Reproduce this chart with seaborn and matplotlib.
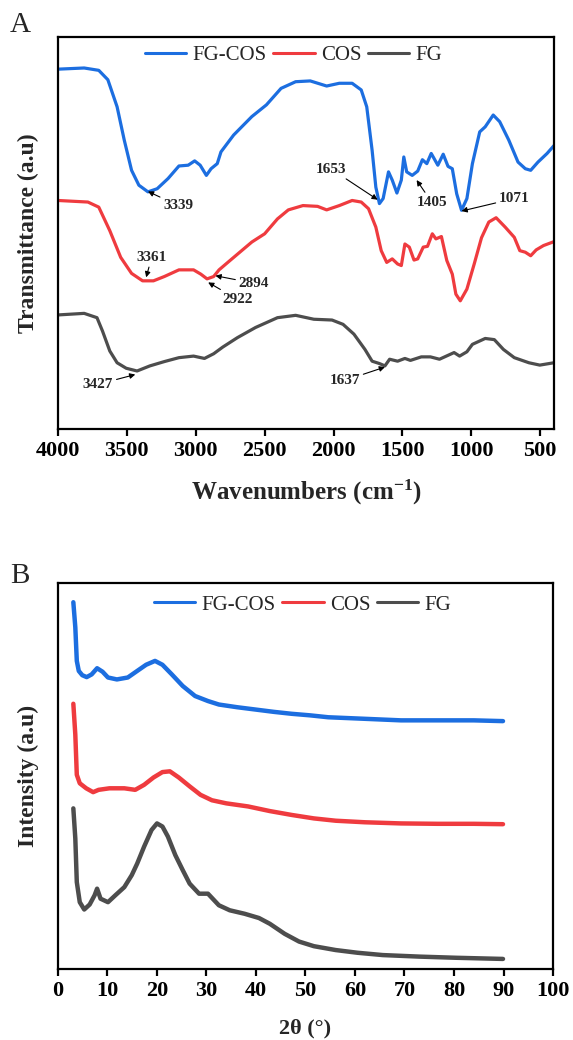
import numpy as np
import pandas as pd
import matplotlib
matplotlib.use("Agg")
import matplotlib.pyplot as plt
import seaborn as sns

# ---- FTIR data (panel A), wavenumber vs transmittance (a.u., offset) ----
ftir_fgcos_x = [4000, 3810, 3704, 3638, 3571, 3519, 3466, 3413, 3347, 3280, 3201, 3122, 3055,
                3008, 2968, 2923, 2889, 2844, 2817, 2725, 2593, 2487, 2381, 2275, 2169, 2050,
                1958, 1865, 1799, 1759, 1720, 1693, 1667, 1640, 1601, 1574, 1540, 1508, 1490,
                1469, 1429, 1389, 1355, 1323, 1291, 1243, 1204, 1169, 1138, 1106, 1071, 1032,
                992, 939, 899, 841, 794, 728, 661, 608, 569, 516, 450, 400]
ftir_fgcos_y = [91.8, 92.1, 91.5, 89.1, 82.2, 73.7, 66.0, 62.2, 60.5, 61.3, 63.9, 67.1, 67.3,
                68.4, 67.3, 64.7, 66.4, 67.7, 70.7, 75.0, 79.7, 82.7, 86.9, 88.6, 88.8, 87.5,
                88.2, 88.2, 86.5, 82.2, 71.1, 61.7, 57.5, 58.8, 65.6, 63.5, 60.2, 63.5, 69.4,
                65.6, 64.7, 65.8, 68.7, 67.7, 70.3, 67.3, 70.1, 67.0, 66.4, 60.0, 55.8, 58.8,
                67.7, 75.8, 77.1, 80.1, 78.4, 73.7, 68.1, 66.4, 66.0, 68.1, 70.3, 72.3]

ftir_cos_x = [4000, 3783, 3704, 3624, 3545, 3466, 3386, 3307, 3228, 3122, 3016, 2963, 2918,
              2870, 2831, 2751, 2593, 2500, 2407, 2328, 2222, 2116, 2050, 1958, 1865, 1799,
              1746, 1693, 1654, 1614, 1574, 1535, 1508, 1482, 1450, 1416, 1389, 1349, 1318,
              1283, 1257, 1217, 1178, 1138, 1112, 1080, 1032, 979, 926, 873, 820, 754, 688,
              648, 608, 569, 529, 476, 400]
ftir_cos_y = [58.3, 57.9, 56.6, 50.6, 43.8, 39.7, 37.8, 37.8, 38.9, 40.6, 40.6, 39.5, 38.3,
              38.9, 40.6, 43.0, 47.7, 49.8, 53.6, 55.9, 57.0, 56.8, 55.9, 57.0, 58.3, 57.9,
              56.2, 51.5, 45.5, 42.5, 43.4, 42.1, 41.7, 47.2, 46.4, 43.1, 43.4, 46.4, 46.6,
              49.8, 48.5, 49.1, 43.0, 39.5, 34.4, 32.7, 35.7, 42.1, 48.8, 52.8, 53.9, 51.5,
              48.9, 45.5, 45.1, 44.2, 45.7, 46.8, 47.8]

ftir_fg_x = [4000, 3810, 3717, 3677, 3624, 3571, 3505, 3426, 3333, 3228, 3122, 3016, 2937,
             2870, 2804, 2698, 2566, 2407, 2275, 2143, 2011, 1931, 1852, 1772, 1720, 1667,
             1627, 1593, 1535, 1482, 1442, 1363, 1297, 1231, 1125, 1085, 1032, 992, 899, 833,
             767, 688, 582, 503, 400]
ftir_fg_y = [29.1, 29.5, 28.4, 25.0, 19.9, 16.9, 15.5, 14.8, 16.1, 17.2, 18.2, 18.6, 18.0,
             19.2, 20.9, 23.3, 25.9, 28.4, 29.0, 28.0, 27.8, 26.7, 24.2, 20.3, 17.3, 16.7,
             16.1, 17.8, 17.3, 18.0, 17.5, 18.4, 18.4, 17.8, 19.5, 18.6, 19.7, 21.6, 23.1,
             22.8, 20.3, 18.2, 16.9, 16.3, 16.9]

# peak labels: text, arrow head (x, y), text position (x, y)
peak_labels = ["3339", "3361", "2894", "2922", "3427", "1653", "1405", "1071", "1637"]
peak_head_x = [3347, 3360, 2857, 2910, 3439, 1680, 1397, 1071, 1627]
peak_head_y = [60.6, 38.7, 39.1, 37.4, 13.9, 58.5, 63.5, 55.6, 15.8]
peak_text_x = [3127, 3320, 2579, 2698, 3709, 2016, 1288, 688, 1918]
peak_text_y = [57.0, 43.8, 37.2, 33.1, 11.4, 66.3, 57.9, 58.8, 12.4]

# ---- XRD data (panel B), 2theta vs intensity (a.u., offset) ----
xrd_fgcos_x = [3.1, 3.5, 3.8, 4.2, 4.9, 5.8, 6.8, 7.9, 9.0, 10.1, 11.9, 14.1, 16.0, 17.8,
               19.6, 21.1, 23.0, 25.2, 27.7, 30.3, 32.5, 36.2, 39.9, 43.6, 47.2, 50.9, 54.6,
               62.0, 69.3, 76.7, 84.0, 89.9]
xrd_fgcos_y = [95.0, 88.5, 79.8, 77.2, 76.1, 75.6, 76.3, 77.9, 77.0, 75.5, 75.0, 75.5, 77.2,
               78.8, 79.8, 78.8, 76.3, 73.3, 70.7, 69.4, 68.5, 67.8, 67.2, 66.6, 66.1, 65.7,
               65.2, 64.8, 64.4, 64.4, 64.4, 64.2]

xrd_cos_x = [3.1, 3.5, 3.8, 4.4, 5.7, 7.1, 8.2, 10.4, 13.4, 15.6, 17.4, 19.3, 21.1, 22.6,
             24.4, 26.6, 28.8, 31.1, 34.0, 38.4, 42.8, 47.2, 51.7, 56.1, 62.0, 69.3, 76.7,
             84.0, 89.9]
xrd_cos_y = [68.7, 60.7, 50.3, 48.1, 46.8, 45.8, 46.4, 46.8, 46.8, 46.4, 47.7, 49.6, 51.0,
             51.2, 49.6, 47.3, 45.1, 43.7, 42.9, 42.1, 40.9, 39.9, 39.0, 38.4, 38.0, 37.7,
             37.6, 37.6, 37.5]

xrd_fg_x = [3.1, 3.5, 3.8, 4.4, 5.3, 6.4, 7.4, 7.9, 8.6, 10.1, 11.6, 13.4, 14.9, 16.0, 17.4,
            18.9, 20.0, 21.1, 22.2, 23.7, 25.2, 26.6, 28.5, 30.3, 32.5, 34.7, 37.7, 40.6,
            42.8, 45.8, 48.7, 51.7, 56.1, 60.5, 65.6, 73.0, 80.4, 89.9]
xrd_fg_y = [41.6, 33.8, 22.5, 17.3, 15.4, 16.7, 19.1, 20.8, 18.2, 17.3, 19.1, 21.2, 24.3,
            27.3, 31.7, 36.0, 37.7, 36.9, 34.3, 29.5, 25.6, 22.1, 19.5, 19.5, 16.5, 15.2,
            14.3, 13.2, 11.7, 9.1, 7.1, 5.9, 4.9, 4.2, 3.6, 3.2, 2.9, 2.6]

series_names = ["FG-COS", "COS", "FG"]
series_colors = ["#1c6ee0", "#ef3b3f", "#4d4d4d"]

sns.set_theme(style="white")
plt.rcParams["font.family"] = ["Liberation Serif", "DejaVu Serif"]
plt.rcParams["mathtext.fontset"] = "custom"
plt.rcParams["mathtext.rm"] = "Liberation Serif"
plt.rcParams["mathtext.bf"] = "Liberation Serif:bold"

fig = plt.figure(figsize=(5.73, 10.4), dpi=100)
axA = fig.add_axes([0.1012, 0.5875, 0.8656, 0.3769])
axB = fig.add_axes([0.1012, 0.0683, 0.8639, 0.3712])

ftir = [(ftir_fgcos_x, ftir_fgcos_y), (ftir_cos_x, ftir_cos_y), (ftir_fg_x, ftir_fg_y)]
xrd = [(xrd_fgcos_x, xrd_fgcos_y), (xrd_cos_x, xrd_cos_y), (xrd_fg_x, xrd_fg_y)]

for (x, y), name, c in zip(ftir, series_names, series_colors):
    sns.lineplot(x=x, y=y, ax=axA, color=c, lw=2.3, label=name, sort=False)
for (x, y), name, c in zip(xrd, series_names, series_colors):
    sns.lineplot(x=x, y=y, ax=axB, color=c, lw=3.2, label=name, sort=False)

for lab, hx, hy, tx, ty in zip(peak_labels, peak_head_x, peak_head_y, peak_text_x, peak_text_y):
    axA.annotate(lab, xy=(hx, hy), xytext=(tx, ty), ha="center", va="center",
                 fontsize=11, fontweight="bold",
                 arrowprops=dict(arrowstyle="-|>", color="black", lw=0.8,
                                 mutation_scale=8, shrinkA=0, shrinkB=0))

axA.set_xlim(4000, 400)
axA.set_ylim(0, 100)
axA.set_xticks([4000, 3500, 3000, 2500, 2000, 1500, 1000, 500])
axB.set_xlim(0, 100)
axB.set_ylim(0, 100)
axB.set_xticks(np.arange(0, 101, 10))

axA.set_xlabel(r"Wavenumbers $\mathregular{(cm^{\mathbf{-1}})}$", fontsize=18,
               fontweight="bold", labelpad=12)
axA.set_ylabel("Transmittance (a.u)", fontsize=17, fontweight="bold", labelpad=14)
axB.set_xlabel("2θ (°)", fontsize=16, fontweight="bold", labelpad=12)
axB.set_ylabel("Intensity (a.u)", fontsize=17, fontweight="bold", labelpad=14)

for ax in (axA, axB):
    ax.set_yticks([])
    for s in ax.spines.values():
        s.set_linewidth(1.6)
        s.set_color("black")
    ax.tick_params(axis="x", direction="out", length=5, width=1.6, bottom=True,
                   labelsize=16, pad=4, colors="black")
    for t in ax.get_xticklabels():
        t.set_fontweight("bold")

axA.legend(loc="center", bbox_to_anchor=(0.475, 0.954), ncol=3, frameon=False,
           fontsize=15, handlelength=2.0, handletextpad=0.3, columnspacing=0.3,
           borderpad=0)
axB.legend(loc="center", bbox_to_anchor=(0.494, 0.943), ncol=3, frameon=False,
           fontsize=15, handlelength=2.0, handletextpad=0.3, columnspacing=0.3,
           borderpad=0)
for lg in (axA.get_legend(), axB.get_legend()):
    for h in lg.get_lines():
        h.set_linewidth(2.2)

fig.text(0.035, 0.976, "A", fontsize=21, ha="center", va="center")
fig.text(0.035, 0.446, "B", fontsize=21, ha="center", va="center")

fig.savefig("out.png", dpi=100)
